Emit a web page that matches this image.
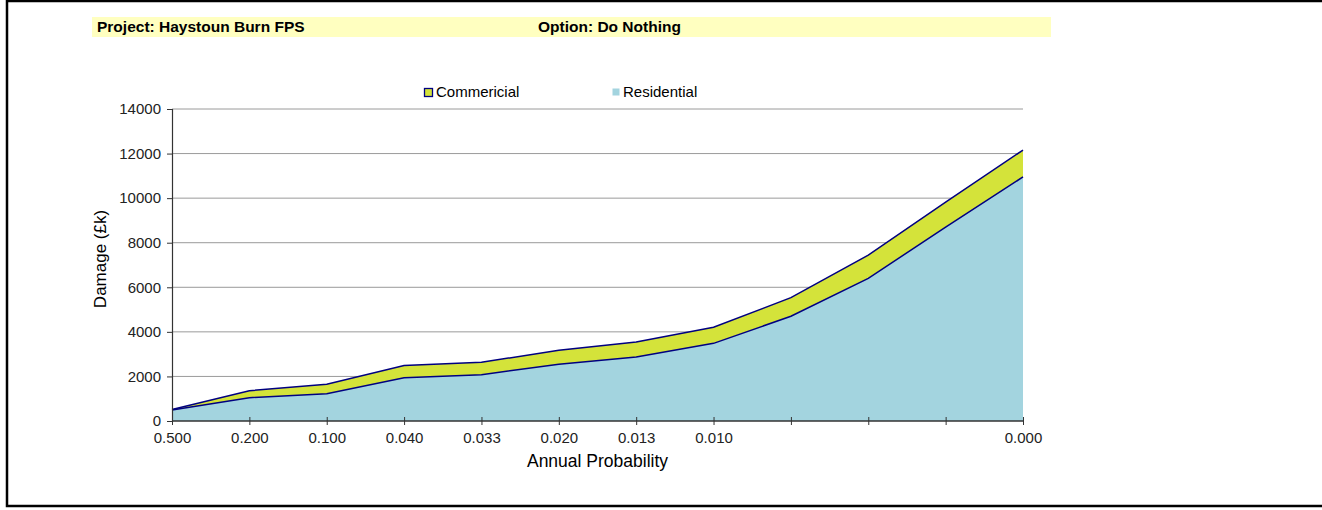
<!DOCTYPE html>
<html>
<head>
<meta charset="utf-8">
<script src="https://cdn.jsdelivr.net/npm/d3@7"></script>
<style>
  body { margin: 0; background: #fff; }
  svg { display: block; font-family: Arial, "Liberation Sans", sans-serif; }
</style>
</head>
<body>
<div id="chart"></div>
<script>
// Category labels (annual probability); blanks are unlabelled categories
const probLabels = ["0.500", "0.200", "0.100", "0.040", "0.033", "0.020", "0.013", "0.010", "", "", "", "0.000"];
// Damage values in £k
const residential = [490, 1045, 1225, 1945, 2080, 2545, 2870, 3485, 4700, 6400, 8700, 10950];
const commercial = [30, 315, 420, 540, 555, 630, 675, 720, 835, 1045, 1120, 1210];
const yTicks = [0, 2000, 4000, 6000, 8000, 10000, 12000, 14000];

const width = 1322;
const height = 510;
const plot = { left: 172, right: 1023, top: 109, bottom: 421 };

const svg = d3
  .select("#chart")
  .append("svg")
  .attr("width", width)
  .attr("height", height);

// outer frame (only left, top, bottom visible)
svg
  .append("rect")
  .attr("x", 7)
  .attr("y", 1)
  .attr("width", width + 20)
  .attr("height", 505)
  .attr("fill", "none")
  .attr("stroke", "#000")
  .attr("stroke-width", 2.5);

// header strip
svg
  .append("rect")
  .attr("x", 92)
  .attr("y", 17)
  .attr("width", 959)
  .attr("height", 20)
  .attr("fill", "#ffffc0");

svg
  .append("text")
  .attr("x", 97)
  .attr("y", 32)
  .style("font-size", "15.5px")
  .style("font-weight", "bold")
  .text("Project: Haystoun Burn FPS");

svg
  .append("text")
  .attr("x", 538)
  .attr("y", 32)
  .style("font-size", "15.5px")
  .style("font-weight", "bold")
  .text("Option: Do Nothing");

// scales
const xScale = d3
  .scalePoint()
  .domain(d3.range(probLabels.length))
  .range([plot.left, plot.right]);

const yScale = d3
  .scaleLinear()
  .domain([0, 14000])
  .range([plot.bottom, plot.top]);

// gridlines
svg
  .append("g")
  .selectAll("line")
  .data(yTicks.filter((d) => d > 0))
  .enter()
  .append("line")
  .attr("x1", plot.left)
  .attr("x2", plot.right)
  .attr("y1", (d) => yScale(d))
  .attr("y2", (d) => yScale(d))
  .attr("stroke", "#9a9a9a")
  .attr("stroke-width", 1);

// stacked areas
const table = probLabels.map((p, i) => ({
  i: i,
  Residential: residential[i],
  Commercial: commercial[i],
}));

const series = d3.stack().keys(["Residential", "Commercial"])(table);
const fills = { Residential: "#a3d4df", Commercial: "#d4e33a" };

const area = d3
  .area()
  .x((d) => xScale(d.data.i))
  .y0((d) => yScale(d[0]))
  .y1((d) => yScale(d[1]));

const topLine = d3
  .line()
  .x((d) => xScale(d.data.i))
  .y((d) => yScale(d[1]));

svg
  .append("g")
  .selectAll("path")
  .data(series)
  .enter()
  .append("path")
  .attr("d", area)
  .attr("fill", (s) => fills[s.key]);

svg
  .append("g")
  .selectAll("path")
  .data(series)
  .enter()
  .append("path")
  .attr("d", topLine)
  .attr("fill", "none")
  .attr("stroke", "#000080")
  .attr("stroke-width", 1.5);

// y axis
const yAxis = d3
  .axisLeft(yScale)
  .tickValues(yTicks)
  .tickSize(5)
  .tickPadding(6)
  .tickFormat(d3.format("d"));

const gy = svg
  .append("g")
  .attr("transform", `translate(${plot.left},0)`)
  .call(yAxis);
gy.select(".domain").attr("stroke", "#333").attr("stroke-width", 1.2);
gy.selectAll(".tick line").attr("stroke", "#333");
gy.selectAll("text").style("font-size", "15px").attr("fill", "#222");

// x axis
const xAxis = d3
  .axisBottom(xScale)
  .tickSize(4)
  .tickPadding(7)
  .tickFormat((i) => probLabels[i]);

const gx = svg
  .append("g")
  .attr("transform", `translate(0,${plot.bottom})`)
  .call(xAxis);
gx.select(".domain").attr("d", `M${plot.left},0H${plot.right}`).attr("stroke", "#333").attr("stroke-width", 1.5);
gx.selectAll(".tick line").attr("y1", -4).attr("y2", 4).attr("stroke", "#333");
gx.selectAll("text").style("font-size", "15px").attr("fill", "#222");

// axis titles
svg
  .append("text")
  .attr("x", (plot.left + plot.right) / 2)
  .attr("y", 467)
  .style("text-anchor", "middle")
  .style("font-size", "17.5px")
  .text("Annual Probability");

svg
  .append("text")
  .attr("transform", "rotate(-90)")
  .attr("x", -259)
  .attr("y", 106)
  .style("text-anchor", "middle")
  .style("font-size", "17px")
  .text("Damage (£k)");

// legend
const legendItems = [
  { label: "Commericial", fill: fills.Commercial, stroke: "#000080", x: 424, size: 8 },
  { label: "Residential", fill: fills.Residential, stroke: "none", x: 612, size: 7 },
];

const legend = svg
  .append("g")
  .selectAll("g")
  .data(legendItems)
  .enter()
  .append("g")
  .attr("transform", (d) => `translate(${d.x},88)`);

legend
  .append("rect")
  .attr("x", 0.5)
  .attr("y", (d) => (d.size === 8 ? 0.5 : 0.5))
  .attr("width", (d) => d.size)
  .attr("height", (d) => d.size)
  .attr("fill", (d) => d.fill)
  .attr("stroke", (d) => d.stroke)
  .attr("stroke-width", 1.3);

legend
  .append("text")
  .attr("x", (d) => (d.size === 8 ? 12 : 11))
  .attr("y", 9)
  .style("font-size", "15px")
  .text((d) => d.label);
</script>
</body>
</html>
